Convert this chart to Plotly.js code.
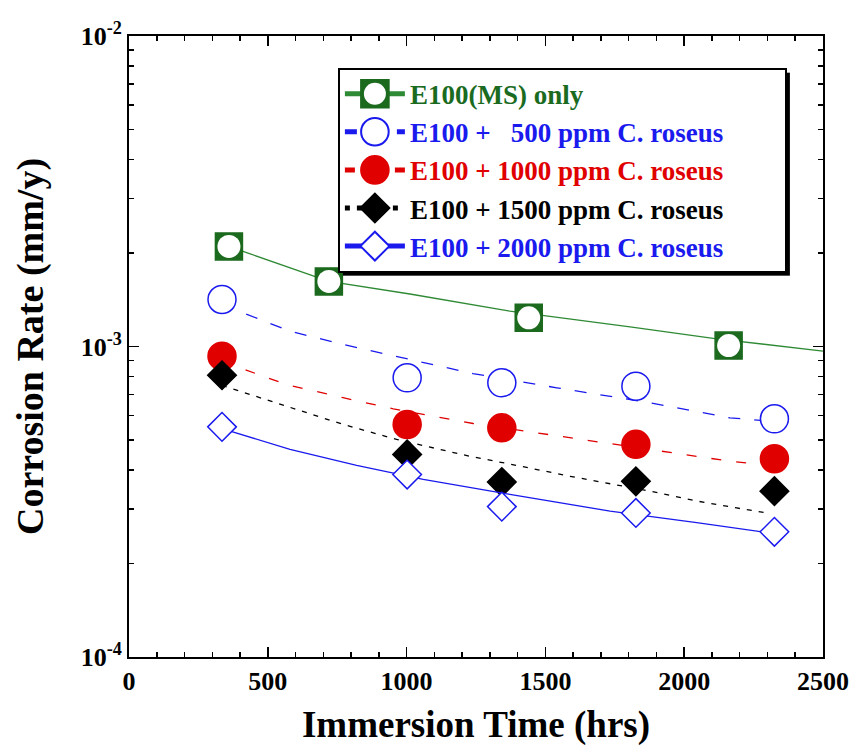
<!DOCTYPE html>
<html>
<head>
<meta charset="utf-8">
<script src="https://cdn.plot.ly/plotly-3.0.1.min.js"></script>
<style>html,body{margin:0;padding:0;background:#fff;}</style>
</head>
<body>
<div id="chart" style="width:858px;height:749px;"></div>
<script>
// ---- measured data (Immersion time in hrs, corrosion rate in mm/y) ----
const timeMS = [360, 720, 1440, 2160];
const rateMS = [2.10e-3, 1.62e-3, 1.237e-3, 1.007e-3];

const timeCR = [335, 1002, 1343, 1826, 2325];
const rate500 = [1.417e-3, 0.793e-3, 0.764e-3, 0.745e-3, 0.585e-3];
const rate1000 = [0.931e-3, 0.561e-3, 0.547e-3, 0.484e-3, 0.435e-3];
const rate1500 = [0.808e-3, 0.449e-3, 0.366e-3, 0.368e-3, 0.342e-3];
const rate2000 = [0.551e-3, 0.387e-3, 0.305e-3, 0.291e-3, 0.253e-3];

// ---- fitted curves ----
const fitMS_t = [360, 720, 1012, 1372, 1805, 2111, 2500];
const fitMS_r = [2.10e-3, 1.62e-3, 1.476e-3, 1.299e-3, 1.157e-3, 1.061e-3, 0.966e-3];
const fit500_t = [335, 580, 771, 965, 1239, 1541, 1877, 2165, 2323];
const fit500_r = [1.365e-3, 1.120e-3, 1.015e-3, 0.927e-3, 0.818e-3, 0.736e-3, 0.659e-3, 0.589e-3, 0.574e-3];
const fit1000_t = [335, 568, 771, 952, 1240, 1589, 1877, 2165, 2323];
const fit1000_r = [0.895e-3, 0.754e-3, 0.684e-3, 0.630e-3, 0.565e-3, 0.508e-3, 0.464e-3, 0.427e-3, 0.414e-3];
const fit1500_t = [335, 580, 772, 964, 1228, 1409, 1589, 1877, 2045, 2189, 2309];
const fit1500_r = [0.749e-3, 0.635e-3, 0.561e-3, 0.502e-3, 0.443e-3, 0.412e-3, 0.382e-3, 0.342e-3, 0.318e-3, 0.302e-3, 0.290e-3];
const fit2000_t = [335, 580, 820, 1060, 1372, 1733, 2045, 2323];
const fit2000_r = [0.544e-3, 0.466e-3, 0.414e-3, 0.373e-3, 0.334e-3, 0.295e-3, 0.271e-3, 0.250e-3];

const seriesNames = [
  'E100(MS) only',
  'E100 +\u00A0\u00A0\u00A0500 ppm C. roseus',
  'E100 + 1000 ppm C. roseus',
  'E100 + 1500 ppm C. roseus',
  'E100 + 2000 ppm C. roseus'
];
const yTickVals = [1e-4, 1e-3, 1e-2];
const yTickText = ['10<sup>-4</sup>', '10<sup>-3</sup>', '10<sup>-2</sup>'];
const yMinorVals = [2e-4,3e-4,4e-4,5e-4,6e-4,7e-4,8e-4,9e-4,2e-3,3e-3,4e-3,5e-3,6e-3,7e-3,8e-3,9e-3];

const FONT = 'Liberation Serif';

// combine a fitted line and isolated markers into one trace
function combo(fitT, fitR, t, r, msize) {
  const x = fitT.slice(), y = fitR.slice(), s = fitT.map(() => 0);
  for (let i = 0; i < t.length; i++) { x.push(null, t[i]); y.push(null, r[i]); s.push(0, msize); }
  return {x, y, s};
}

const textColors = ['#1a6b1f', '#1a1aee', '#e00000', '#000000', '#1a1aee'];

function mk(i, fitT, fitR, t, r, msize, symbol, fill, edge, lineColor, dash, lw) {
  const c = combo(fitT, fitR, t, r, msize);
  return {
    x: c.x, y: c.y, type: 'scatter', mode: 'lines+markers', connectgaps: false,
    name: '<span style="color:' + textColors[i] + '">' + seriesNames[i] + '</span>',
    line: {color: lineColor, width: lw, dash: dash},
    marker: {size: c.s, symbol: symbol, color: fill, opacity: 1, line: {color: edge, width: 1.5}},
    hoverinfo: 'x+y'
  };
}

const traces = [
  mk(0, fitMS_t, fitMS_r, timeMS, rateMS, 27, 'square', '#1b6a1e', '#1b6a1e', '#2f8a35', 'solid', 1.3),
  {
    x: timeMS, y: rateMS, type: 'scatter', mode: 'markers', showlegend: false,
    marker: {size: 23, symbol: 'circle', color: '#ffffff', opacity: 1, line: {width: 0}}, hoverinfo: 'skip'
  },
  mk(1, fit500_t, fit500_r, timeCR, rate500, 28, 'circle', '#ffffff', '#1a1aee', '#1a1aee', '12px,14px', 1.3),
  mk(2, fit1000_t, fit1000_r, timeCR, rate1000, 28, 'circle', '#e00000', '#e00000', '#e00000', '10px,15px', 1.3),
  mk(3, fit1500_t, fit1500_r, timeCR, rate1500, 22, 'diamond', '#000000', '#000000', '#000000', '5px,7px', 1.3),
  mk(4, fit2000_t, fit2000_r, timeCR, rate2000, 22, 'diamond', '#ffffff', '#1a1aee', '#1a1aee', 'solid', 1.3)
];

const layout = {
  width: 858, height: 749,
  margin: {l: 129, r: 35, t: 36, b: 92},
  paper_bgcolor: '#ffffff', plot_bgcolor: '#ffffff',
  font: {family: FONT, color: '#000000'},
  showlegend: true,
  legend: {
    x: 0.301, y: 0.949, xanchor: 'left', yanchor: 'top',
    bgcolor: '#ffffff', bordercolor: '#000000', borderwidth: 2,
    font: {family: FONT, size: 27, weight: 'bold', color: '#000000'},
    itemsizing: 'constant', itemwidth: 60, tracegroupgap: 0
  },
  xaxis: {
    range: [0, 2500], tickmode: 'linear', tick0: 0, dtick: 500,
    ticks: 'inside', ticklen: 10, tickwidth: 1.5, tickcolor: '#000',
    showline: true, linewidth: 2, linecolor: '#000', mirror: 'ticks',
    showgrid: false, zeroline: false,
    minor: {dtick: 100, ticks: 'inside', ticklen: 5, tickwidth: 1.5, tickcolor: '#000', showgrid: false},
    tickfont: {family: FONT, size: 26, weight: 'bold', color: '#000'},
    title: {text: 'Immersion Time (hrs)', font: {family: FONT, size: 37, weight: 'bold', color: '#000'}, standoff: 16}
  },
  yaxis: {
    type: 'log', range: [-4, -2],
    tickmode: 'array', tickvals: yTickVals, ticktext: yTickText,
    ticks: 'inside', ticklen: 10, tickwidth: 1.5, tickcolor: '#000',
    showline: true, linewidth: 2, linecolor: '#000', mirror: 'ticks',
    showgrid: false, zeroline: false,
    minor: {tickmode: 'array', tickvals: yMinorVals, ticks: 'inside', ticklen: 5, tickwidth: 1.5, tickcolor: '#000', showgrid: false},
    tickfont: {family: FONT, size: 26, weight: 'bold', color: '#000'},
    title: {text: 'Corrosion Rate (mm/y)', font: {family: FONT, size: 38, weight: 'bold', color: '#000'}, standoff: 25}
  }
};

const LEGEND_BOX_WIDTH = 447;

Plotly.newPlot('chart', traces, layout, {displayModeBar: false, staticPlot: true}).then(function (gd) {
  const NS = 'http://www.w3.org/2000/svg';
  // enlarge the legend symbols to match the plotted marker size
  gd.querySelectorAll('.legend .traces').forEach(function (tr, idx) {
    tr.querySelectorAll('.legendpoints path.scatterpts').forEach(function (p) {
      const t = p.getAttribute('transform') || '';
      const k = (idx === 3 || idx === 4) ? 1.85 : 2.3;
      p.setAttribute('transform', t + ' scale(' + k + ')');
      p.style.vectorEffect = 'non-scaling-stroke';
      if (idx === 0) {
        const c = document.createElementNS(NS, 'circle');
        c.setAttribute('r', '11');
        c.setAttribute('transform', t);
        c.setAttribute('fill', '#ffffff');
        p.parentNode.appendChild(c);
      }
    });
  });
  // widen the legend frame and add its drop shadow
  const leg = gd.querySelector('.legend');
  const bg = leg && leg.querySelector('rect.bg');
  if (bg) {
    let w = parseFloat(bg.getAttribute('width'));
    const h = parseFloat(bg.getAttribute('height'));
    if (w < LEGEND_BOX_WIDTH) { w = LEGEND_BOX_WIDTH; bg.setAttribute('width', w); }
    const bx = parseFloat(bg.getAttribute('x') || 0), by = parseFloat(bg.getAttribute('y') || 0);
    const sh = document.createElementNS(NS, 'rect');
    sh.setAttribute('x', bx + 4); sh.setAttribute('y', by + 4);
    sh.setAttribute('width', w); sh.setAttribute('height', h);
    sh.setAttribute('fill', '#000000');
    bg.parentNode.insertBefore(sh, bg);
  }
});
</script>
</body>
</html>
